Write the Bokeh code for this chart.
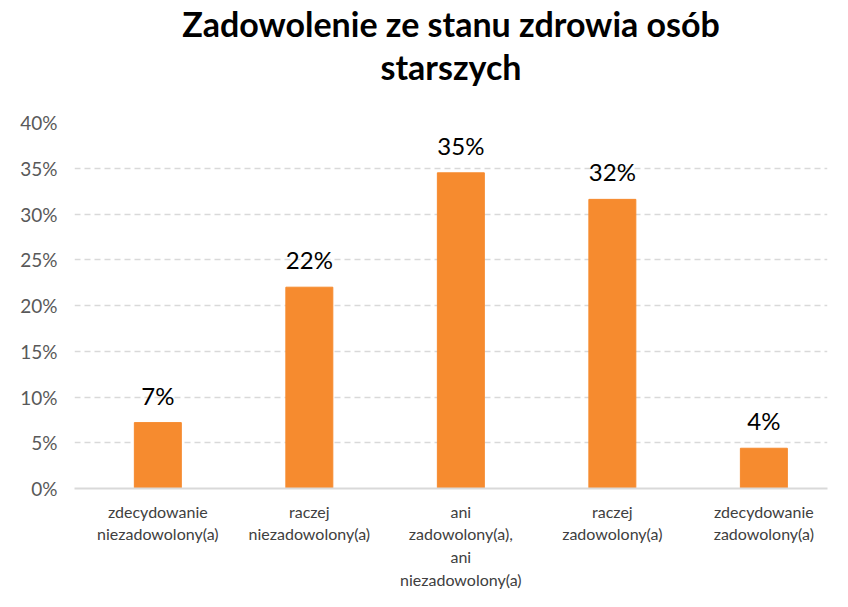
from bokeh.plotting import figure
from bokeh.models import Range1d, FixedTicker, PrintfTickFormatter, Title, ColumnDataSource
from bokeh.embed import file_html
from bokeh.resources import INLINE
from bokeh.core.properties import value

categories = ["zdecydowanie\nniezadowolony(a)", "raczej\nniezadowolony(a)",
              "ani\nzadowolony(a),\nani\nniezadowolony(a)", "raczej\nzadowolony(a)",
              "zdecydowanie\nzadowolony(a)"]
values = [7.2, 22.0, 34.5, 31.6, 4.4]
labels = ["7%", "22%", "35%", "32%", "4%"]
y_ticks = [0, 5, 10, 15, 20, 25, 30, 35, 40]

FONT = "Lato"
x = list(range(len(categories)))
src = ColumnDataSource(dict(x=x, top=values, lab=labels))

p = figure(width=832, height=591, output_backend="svg", toolbar_location=None,
           x_range=Range1d(-0.55, 4.42), y_range=Range1d(0, 40),
           min_border_left=74, min_border_right=5, min_border_bottom=0, min_border_top=20)
p.outline_line_color = None
p.background_fill_color = "white"
p.border_fill_color = "white"

p.vbar(x="x", top="top", width=0.31, bottom=0, source=src, color="#F68B2F")
p.text(x="x", y="top", text="lab", source=src, text_align="center", text_baseline="bottom",
       y_offset=-13, text_font=value(FONT), text_font_size="24px", text_color="#000000")

p.xgrid.visible = False
p.ygrid.grid_line_color = "#D9D9D9"
p.ygrid.grid_line_dash = "6 4"
p.ygrid.grid_line_width = 1.5
p.yaxis.ticker = FixedTicker(ticks=y_ticks)
p.yaxis.formatter = PrintfTickFormatter(format="%d%%")
p.yaxis.axis_line_color = None
p.yaxis.major_tick_line_color = None
p.yaxis.minor_tick_line_color = None
p.yaxis.major_label_text_font = FONT
p.yaxis.major_label_text_font_size = "19px"
p.yaxis.major_label_text_color = "#595959"
p.yaxis.major_label_standoff = 11

p.xaxis.ticker = FixedTicker(ticks=x)
p.xaxis.major_label_overrides = {i: c for i, c in zip(x, categories)}
p.xaxis.axis_line_color = "#D9D9D9"
p.xaxis.axis_line_width = 2
p.xaxis.major_tick_line_color = None
p.xaxis.minor_tick_line_color = None
p.xaxis.major_label_text_font = FONT
p.xaxis.major_label_text_font_size = "16px"
p.xaxis.major_label_text_color = "#404040"
p.xaxis.major_label_standoff = 7

p.title = None
spacer = Title(text=" ", align="center", text_font=FONT, text_font_size="28px", standoff=0)
t2 = Title(text="starszych", align="center", text_font=FONT, text_font_size="34px",
           text_font_style="bold", text_color="#000000", standoff=0)
t1 = Title(text="Zadowolenie ze stanu zdrowia osób", align="center", text_font=FONT,
           text_font_size="34px", text_font_style="bold", text_color="#000000", standoff=0)
p.add_layout(spacer, "above")
p.add_layout(t2, "above")
p.add_layout(t1, "above")

open("out.html", "w").write(file_html(p, INLINE))
